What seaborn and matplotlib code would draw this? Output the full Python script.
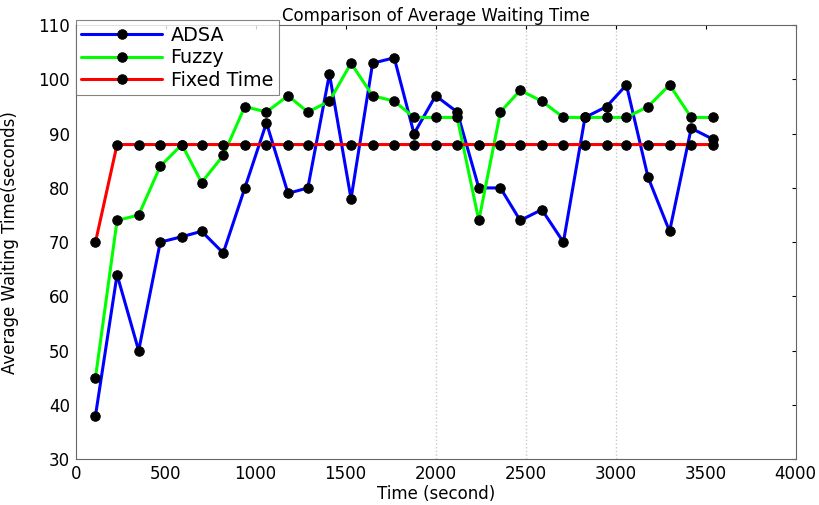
import matplotlib
matplotlib.use('Agg')
import matplotlib.pyplot as plt
import seaborn as sns
import pandas as pd

# time stamps (seconds)
time_s = [110, 230, 350, 470, 590, 700, 820, 940, 1060, 1180,
          1290, 1410, 1530, 1650, 1770, 1880, 2000, 2120, 2240, 2360,
          2470, 2590, 2710, 2830, 2950, 3060, 3180, 3300, 3420, 3540]

adsa = [38, 64, 50, 70, 71, 72, 68, 80, 92, 79,
        80, 101, 78, 103, 104, 90, 97, 94, 80, 80,
        74, 76, 70, 93, 95, 99, 82, 72, 91, 89]

fuzzy = [45, 74, 75, 84, 88, 81, 86, 95, 94, 97,
         94, 96, 103, 97, 96, 93, 93, 93, 74, 94,
         98, 96, 93, 93, 93, 93, 95, 99, 93, 93]

fixed_time = [70, 88, 88, 88, 88, 88, 88, 88, 88, 88,
              88, 88, 88, 88, 88, 88, 88, 88, 88, 88,
              88, 88, 88, 88, 88, 88, 88, 88, 88, 88]

series = [('ADSA', adsa, '#0000ff'),
          ('Fuzzy', fuzzy, '#00ff00'),
          ('Fixed Time', fixed_time, '#ff0000')]

sns.set_style('white')
plt.rcParams['font.family'] = ['DejaVu Sans']
plt.rcParams['xtick.direction'] = 'in'
plt.rcParams['ytick.direction'] = 'in'
plt.rcParams['text.color'] = 'black'
plt.rcParams['axes.labelcolor'] = 'black'
plt.rcParams['xtick.color'] = 'black'
plt.rcParams['ytick.color'] = 'black'

fig = plt.figure(figsize=(8.19, 5.05), dpi=100)
ax = fig.add_axes([0.0924, 0.091, 0.879, 0.859])

# faint dotted lines visible in the original
for gx in [2000, 2500, 3000]:
    ax.axvline(gx, color='#c8c8c8', linestyle=':', linewidth=1, zorder=0)

for name, vals, col in series:
    df = pd.DataFrame({'t': time_s, 'v': vals})
    sns.lineplot(data=df, x='t', y='v', ax=ax, color=col, linewidth=2.2,
                 marker='o', markersize=6.8, markerfacecolor='black',
                 markeredgecolor='black', label=name)

ax.set_xlim(0, 4000)
ax.set_ylim(30, 110)
ax.set_xticks(range(0, 4001, 500))
ax.set_yticks(range(30, 111, 10))
ax.tick_params(axis='x', labelsize=12, top=True, length=3, width=0.8, pad=4)
ax.tick_params(axis='y', labelsize=12, right=True, length=3, width=0.8, pad=4)
for s in ax.spines.values():
    s.set_color('#666666')
    s.set_linewidth(0.8)

ax.set_title('Comparison of Average Waiting Time', fontsize=12, pad=3)
ax.set_xlabel('Time (second)', fontsize=12, labelpad=2)
ax.set_ylabel('Average Waiting Time(seconds)', fontsize=12, labelpad=14)

leg = ax.legend(loc='upper left', bbox_to_anchor=(0.0, 1.012), fontsize=13.8,
                frameon=True, fancybox=False, handlelength=4.2,
                handletextpad=0.45, borderaxespad=0, labelspacing=0.18,
                borderpad=0.3)
leg.get_frame().set_edgecolor('#666666')
leg.get_frame().set_linewidth(0.8)

fig.savefig('out.png', dpi=100)
